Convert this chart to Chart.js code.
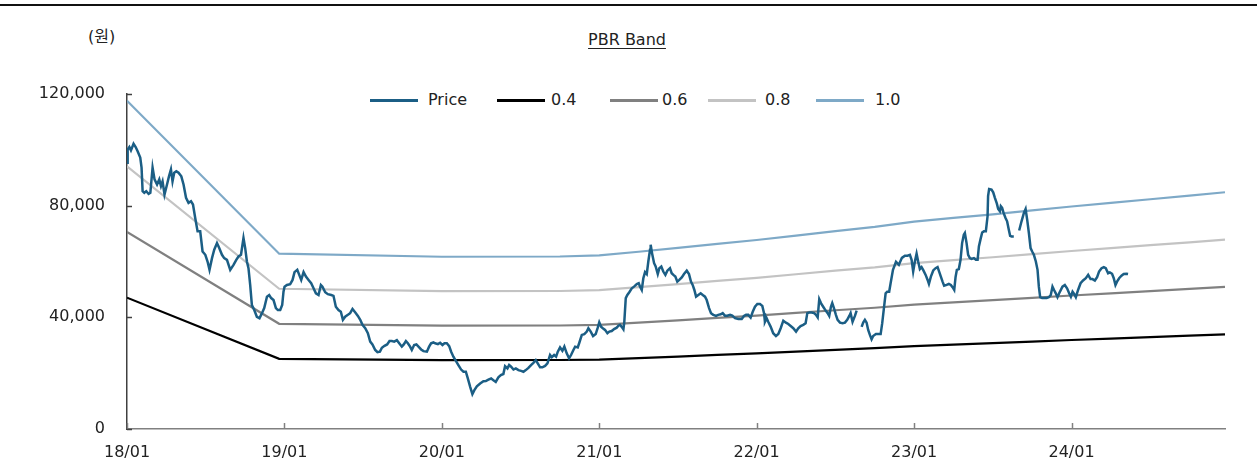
<!DOCTYPE html>
<html>
<head>
<meta charset="utf-8">
<script src="https://cdn.jsdelivr.net/npm/chart.js@4.4.1/dist/chart.umd.min.js"></script>
<style>
  body { margin: 0; background: #fff; }
  #wrap { position: relative; width: 1257px; height: 471px; font-family: 'DejaVu Sans', 'Noto Sans CJK KR', sans-serif; color: #222; }
  #topline { position: absolute; left: 0; top: 4px; width: 1257px; border-top: 2px solid #111; }
  .txt { position: absolute; font-size: 16px; line-height: 20px; white-space: nowrap; }
  #unit { left: 88px; top: 27px; }
  #title { left: 627px; top: 30px; transform: translateX(-50%); text-decoration: underline; text-underline-offset: 3px; }
  .lg-line { position: absolute; height: 3px; width: 48px; top: 99px; }
  .lg-text { position: absolute; top: 90px; font-size: 16px; line-height: 20px; }
  canvas { position: absolute; left: 0; top: 0; }
</style>
</head>
<body>
<div id="wrap">
  <div id="topline"></div>
  <div class="txt" id="unit">(원)</div>
  <div class="txt" id="title">PBR Band</div>
  <div id="legend"></div>
  <canvas id="pbr-chart" width="1257" height="471"></canvas>
</div>
<script>
// x values are months since 2018/01
const xTickMonths = [0, 12, 24, 36, 48, 60, 72];
const xTickLabels = ['18/01', '19/01', '20/01', '21/01', '22/01', '23/01', '24/01'];
const yTickValues = [0, 40000, 80000, 120000];

const seriesNames = ['Price', '0.4', '0.6', '0.8', '1.0'];
const seriesColors = ['#1b5e85', '#000000', '#808080', '#c3c3c3', '#7ea9c7'];

// band lines (quarterly points)
const bandMonths = [0, 11.6, 24, 33, 36, 39, 42, 45, 48, 51, 54, 57, 60, 63, 66, 69, 72, 75, 78, 81, 83.7];
const band04 = [47040, 25120, 24680, 24720, 24880, 25400, 25960, 26520, 27080, 27720, 28360, 28960, 29720, 30240, 30760, 31320, 31880, 32400, 32920, 33440, 33920];
const band06 = [70560, 37680, 37020, 37080, 37320, 38100, 38940, 39780, 40620, 41580, 42540, 43440, 44580, 45360, 46140, 46980, 47820, 48600, 49380, 50160, 50880];
const band08 = [94080, 50240, 49360, 49440, 49760, 50800, 51920, 53040, 54160, 55440, 56720, 57920, 59440, 60480, 61520, 62640, 63760, 64800, 65840, 66880, 67840];
const band10 = [117600, 62800, 61700, 61800, 62200, 63500, 64900, 66300, 67700, 69300, 70900, 72400, 74300, 75600, 76900, 78300, 79700, 81000, 82300, 83600, 84800];

// price (null = break in the line)
const priceMonths = [
  0.00, 0.05, 0.18, 0.30, 0.50, 0.66, 0.81, 1.01, 1.11, 1.19,
  1.32, 1.47, 1.65, 1.78, 1.95, 2.10, 2.29, 2.46, 2.59, 2.71,
  2.86, 3.05, 3.20, 3.35, 3.47, 3.60, 3.76, 3.93, 4.14, 4.31,
  4.50, 4.69, 4.88, 5.03, 5.20, 5.38, 5.58, 5.76, 5.97, 6.14,
  6.29, 6.48, 6.65, 6.86, 7.03, 7.24, 7.41, 7.62, 7.87, 8.12,
  8.33, 8.50, 8.69, 8.88, 9.01, 9.14, 9.26, 9.39, 9.52, 9.70,
  9.90, 10.10, 10.29, 10.46, 10.67, 10.84, 10.99, 11.17, 11.35, 11.50,
  11.68, 11.83, 11.93, 12.01, 12.19, 12.44, 12.62, 12.77, 12.98, 13.13,
  13.28, 13.46, 13.64, 13.84, 14.04, 14.22, 14.40, 14.60, 14.78, 14.90,
  15.11, 15.31, 15.57, 15.74, 15.92, 16.12, 16.30, 16.46, 16.63, 16.84,
  17.01, 17.19, 17.39, 17.60, 17.78, 17.95, 18.16, 18.36, 18.54, 18.71,
  18.92, 19.09, 19.28, 19.43, 19.63, 19.83, 20.01, 20.19, 20.37, 20.57,
  20.75, 20.95, 21.10, 21.26, 21.41, 21.58, 21.71, 21.89, 22.06, 22.22,
  22.42, 22.60, 22.86, 23.03, 23.18, 23.36, 23.49, 23.70, 23.87, 24.05,
  24.20, 24.38, 24.56, 24.71, 24.88, 25.07, 25.26, 25.47, 25.65, 25.83,
  25.98, 26.16, 26.33, 26.48, 26.67, 26.92, 27.17, 27.35, 27.55, 27.76,
  27.93, 28.11, 28.31, 28.50, 28.69, 28.82, 29.00, 29.13, 29.28, 29.46,
  29.64, 29.84, 30.04, 30.22, 30.40, 30.60, 30.80, 30.98, 31.16, 31.31,
  31.49, 31.66, 31.87, 32.05, 32.25, 32.38, 32.56, 32.71, 32.84, 33.01,
  33.19, 33.34, 33.52, 33.70, 33.85, 34.03, 34.16, 34.36, 34.48, 34.67,
  34.86, 35.05, 35.17, 35.35, 35.53, 35.73, 35.88, 36.00, 36.14, 36.27,
  36.44, 36.62, 36.77, 36.95, 37.13, 37.33, 37.46, 37.58, 37.71, 37.84,
  37.91, 38.02, 38.14, 38.29, 38.48, 38.65, 38.86, 39.01, 39.11, 39.24,
  39.36, 39.49, 39.62, 39.74, 39.87, 39.92, 40.02, 40.18, 40.30, 40.46,
  40.58, 40.73, 40.88, 41.04, 41.19, 41.39, 41.52, 41.65, 41.80, 41.95,
  42.10, 42.29, 42.46, 42.67, 42.84, 42.99, 43.12, 43.25, 43.38, 43.55,
  43.73, 43.89, 44.06, 44.19, 44.37, 44.52, 44.69, 44.90, 45.07, 45.26,
  45.41, 45.58, 45.76, 45.97, 46.14, 46.35, 46.60, 46.86, 47.03, 47.19,
  47.36, 47.54, 47.70, 47.87, 48.05, 48.25, 48.43, 48.56, 48.63, 48.76,
  48.88, 49.07, 49.26, 49.47, 49.65, 49.83, 50.03, 50.23, 50.41, 50.59,
  50.79, 51.00, 51.17, 51.35, 51.55, 51.73, 51.86, 52.01, 52.19, 52.37,
  52.52, 52.65, 52.77, 52.90, 53.07, 53.26, 53.41, 53.53, 53.66, 53.76,
  53.89, 54.04, 54.17, 54.35, 54.55, 54.73, 54.90, 55.06, 55.16, 55.31,
  55.49, 55.62, 55.80, 56.00, 56.12, 56.25, 56.38, 56.50, 56.63, 56.76,
  56.88, 57.09, 57.26, 57.45, 57.57, 57.70, 57.83, 57.95, 58.10, 58.21,
  58.39, 58.62, 58.84, 59.07, 59.30, 59.50, 59.68, 59.81, 59.93, 60.06,
  60.19, 60.31, 60.44, 60.57, 60.69, 60.88, 61.03, 61.13, 61.28, 61.46,
  61.64, 61.79, 61.91, 62.04, 62.17, 62.29, 62.48, 62.65, 62.80, 62.93,
  63.06, 63.16, 63.26, 63.41, 63.54, 63.66, 63.79, 63.87, 64.00, 64.12,
  64.25, 64.38, 64.56, 64.71, 64.84, 64.94, 65.07, 65.19, 65.32, 65.47,
  65.60, 65.64, 65.72, 65.90, 66.03, 66.16, 66.31, 66.41, 66.54, 66.61,
  66.71, 66.82, 66.97, 67.09, 67.22, 67.32, 67.43, 67.60, 67.80, 68.01,
  68.19, 68.37, 68.50, 68.62, 68.75, 68.88, 69.00, 69.13, 69.28, 69.41,
  69.51, 69.61, 69.76, 69.91, 70.10, 70.27, 70.42, 70.55, 70.67, 70.80,
  70.93, 71.06, 71.31, 71.49, 71.66, 71.82, 71.95, 72.08, 72.20, 72.33,
  72.50, 72.69, 72.88, 73.09, 73.27, 73.45, 73.60, 73.78, 73.95, 74.10,
  74.29, 74.46, 74.61, 74.79, 74.92, 75.09, 75.22, 75.35, 75.47, 75.63,
  75.81, 75.98, 76.19, 76.31
];
const priceValues = [
  95400, 100100, 101000, 99800, 102200, 101000, 99500, 97200, 93600, 85200,
  84600, 85200, 84200, 84600, 93600, 89400, 87600, 89400, 87000, 88700,
  84000, 87600, 90500, 93000, 88700, 91800, 92300, 91800, 90500, 87600,
  82800, 81000, 81600, 80400, 75600, 70800, 70800, 63600, 62400, 60000,
  57000, 61200, 64200, 66600, 64800, 62400, 61200, 60600, 57000, 58800,
  60600, 61800, 62400, 68400, 64800, 60000, 57600, 51600, 44400, 42600,
  40200, 39700, 41500, 43300, 47400, 48000, 46900, 46200, 43300, 42600,
  42600, 44400, 49200, 51000, 51600, 51900, 53400, 56200, 57000, 55200,
  53400, 56200, 54600, 53400, 52200, 50400, 48600, 48000, 51600, 51000,
  49000, 48300, 48000, 47700, 43800, 42600, 42000, 39100, 40200, 40900,
  41500, 43000, 41800, 40500, 39100, 37300, 36100, 34300, 31300, 30300,
  28300, 27500, 27700, 29100, 29800, 30300, 31500, 31500, 31300, 31800,
  30700, 29500, 30300, 31500, 30700, 29500, 28300, 30100, 30300, 29500,
  28500, 27900, 27700, 29500, 30700, 31000, 30700, 30400, 30900, 30100,
  30700, 30700, 29700, 27700, 25900, 24400, 22900, 21300, 20500, 20500,
  18100, 15100, 12500, 13900, 15300, 16300, 17100, 17200, 17700, 18100,
  17500, 16900, 18500, 19300, 19700, 22500, 21700, 22900, 22300, 21300,
  21700, 21100, 20800, 20500, 21100, 21900, 22900, 23700, 24700, 23500,
  22100, 22100, 22600, 23500, 26500, 25700, 26500, 25900, 27700, 29200,
  28000, 29500, 27100, 25300, 26500, 28300, 29500, 29200, 30900, 33700,
  34000, 34900, 36100, 34900, 33300, 34000, 36200, 38200, 36600, 36100,
  35500, 34300, 34900, 35100, 35800, 36300, 37000, 37300, 36600, 35700,
  38400, 46900, 48000, 49000, 50400, 51000, 51900, 52200, 51000, 49800,
  54000, 56200, 55500, 60000, 64200, 66000, 63000, 59400, 58200, 55500,
  57600, 58200, 56400, 55200, 56700, 57600, 55800, 55200, 54600, 52800,
  53400, 54300, 55500, 56700, 55500, 52800, 51600, 49800, 47400, 48000,
  48600, 48000, 47400, 46200, 43300, 41500, 40900, 40500, 40900, 41100,
  41500, 40600, 40600, 40900, 40600, 39700, 39400, 39400, 40500, 40900,
  40900, 39900, 42000, 43800, 44800, 44800, 44100, 41500, 38400, 39700,
  38400, 36600, 34300, 33300, 34000, 36100, 38800, 38100, 37600, 36900,
  36100, 34900, 36100, 36900, 37300, 37900, 41500, 41700, 41700, 41500,
  40900, 40000, 46500, 45100, 43800, 42400, 41500, 40500, 43800, 45100,
  43300, 40900, 39100, 38100, 37900, 38100, 39100, 40500, 41500, 38400,
  40500, 42400, null, 36600, 38100, 39100, 38100, 35500, 33700, 32100,
  33300, 34000, 34000, 34000, 37900, 43300, 48600, 49200, 49200, 52200,
  57000, 59900, 58800, 61300, 62100, 62100, 62400, 60600, 56400, 60000,
  62800, 60000, 57300, 58000, 57000, 55200, 53400, 52000, 54600, 56800,
  57600, 58000, 56400, 54600, 52800, 51300, 51600, 52000, 51600, 50800,
  49800, 54400, 57000, 57300, 60600, 66600, 69600, 70200, 66600, 62400,
  61200, 60900, 61200, 60600, 60600, 65400, 68100, 70400, 70800, 70800,
  76200, 83400, 86000, 85800, 84800, 82800, 80700, 78800, 78000, 79800,
  79200, 77400, 75600, 74400, 71400, 69200, 69000, 69000, null, 71100,
  74400, 77400, 78800, 75000, 70200, 64800, 63600, 62400, 60000, 57000,
  51000, 47200, 46900, 46900, 46900, 47200, 48000, 51000, 49800, 48600,
  47200, 48600, 51000, 51600, 50400, 48600, 47400, 49200, 48400, 47200,
  49800, 52200, 53200, 54000, 55200, 53700, 53700, 53200, 54400, 56400,
  57600, 58000, 57600, 55800, 56100, 55600, 54000, 51600, 52800, 54000,
  54900, 55500, 55600, 55500
];

function toPoints(xs, ys) {
    return xs.map((x, i) => ({ x: x, y: ys[i] }));
}

// html legend, sitting inside the plot like the original
const legendLineLeft = [370, 497, 610, 708, 816];
const legendTextLeft = [428, 551, 662, 765, 875];
const legendBox = document.getElementById('legend');
seriesNames.forEach(function (name, i) {
    const line = document.createElement('div');
    line.className = 'lg-line';
    line.style.left = legendLineLeft[i] + 'px';
    line.style.background = seriesColors[i];
    legendBox.appendChild(line);
    const label = document.createElement('div');
    label.className = 'lg-text';
    label.style.left = legendTextLeft[i] + 'px';
    label.textContent = name;
    legendBox.appendChild(label);
});

// small inward tick marks on both axes
const innerTicks = {
    id: 'innerTicks',
    afterDraw(chart) {
        const ctx = chart.ctx;
        const xs = chart.scales.x;
        const ys = chart.scales.y;
        ctx.save();
        ctx.lineWidth = 1.5;
        ctx.strokeStyle = '#808080';
        xTickMonths.forEach(function (m) {
            const px = Math.round(xs.getPixelForValue(m)) + 0.5;
            ctx.beginPath();
            ctx.moveTo(px, ys.bottom);
            ctx.lineTo(px, ys.bottom - 6);
            ctx.stroke();
        });
        ctx.strokeStyle = '#404040';
        yTickValues.forEach(function (v) {
            const py = Math.round(ys.getPixelForValue(v)) + 0.5;
            ctx.beginPath();
            ctx.moveTo(xs.left, py);
            ctx.lineTo(xs.left + 5, py);
            ctx.stroke();
        });
        ctx.restore();
    }
};

Chart.defaults.font.family = "'DejaVu Sans', 'Noto Sans CJK KR', sans-serif";
Chart.defaults.font.size = 16;
Chart.defaults.color = '#222';

const bandSets = [band04, band06, band08, band10];
const datasets = [{
    label: seriesNames[0],
    data: toPoints(priceMonths, priceValues),
    borderColor: seriesColors[0],
    borderWidth: 2.5,
    pointRadius: 0,
    spanGaps: false,
    tension: 0
}];
bandSets.forEach(function (band, i) {
    datasets.push({
        label: seriesNames[i + 1],
        data: toPoints(bandMonths, band),
        borderColor: seriesColors[i + 1],
        borderWidth: 2.2,
        pointRadius: 0,
        tension: 0
    });
});

new Chart(document.getElementById('pbr-chart'), {
    type: 'line',
    data: { datasets: datasets },
    options: {
        responsive: false,
        animation: false,
        layout: { padding: { top: 94, right: 32, left: 0, bottom: 0 } },
        plugins: {
            legend: { display: false },
            tooltip: { enabled: false }
        },
        scales: {
            x: {
                type: 'linear',
                min: 0,
                max: 83.7,
                afterBuildTicks: function (axis) {
                    axis.ticks = xTickMonths.map(v => ({ value: v }));
                },
                afterFit: function (axis) { axis.height = 42; },
                ticks: {
                    padding: 14,
                    maxRotation: 0,
                    callback: function (value, index) { return xTickLabels[index]; }
                },
                grid: { display: true, drawOnChartArea: false, drawTicks: false },
                border: { display: true, color: '#808080', width: 1.5 }
            },
            y: {
                min: 0,
                max: 120000,
                afterBuildTicks: function (axis) {
                    axis.ticks = yTickValues.map(v => ({ value: v }));
                },
                afterFit: function (axis) { axis.width = 127; },
                ticks: {
                    padding: 22,
                    callback: function (value) { return value.toLocaleString('en-US'); }
                },
                grid: { display: true, drawOnChartArea: false, drawTicks: false },
                border: { display: true, color: '#404040', width: 1.5 }
            }
        }
    },
    plugins: [innerTicks]
});
</script>
</body>
</html>
